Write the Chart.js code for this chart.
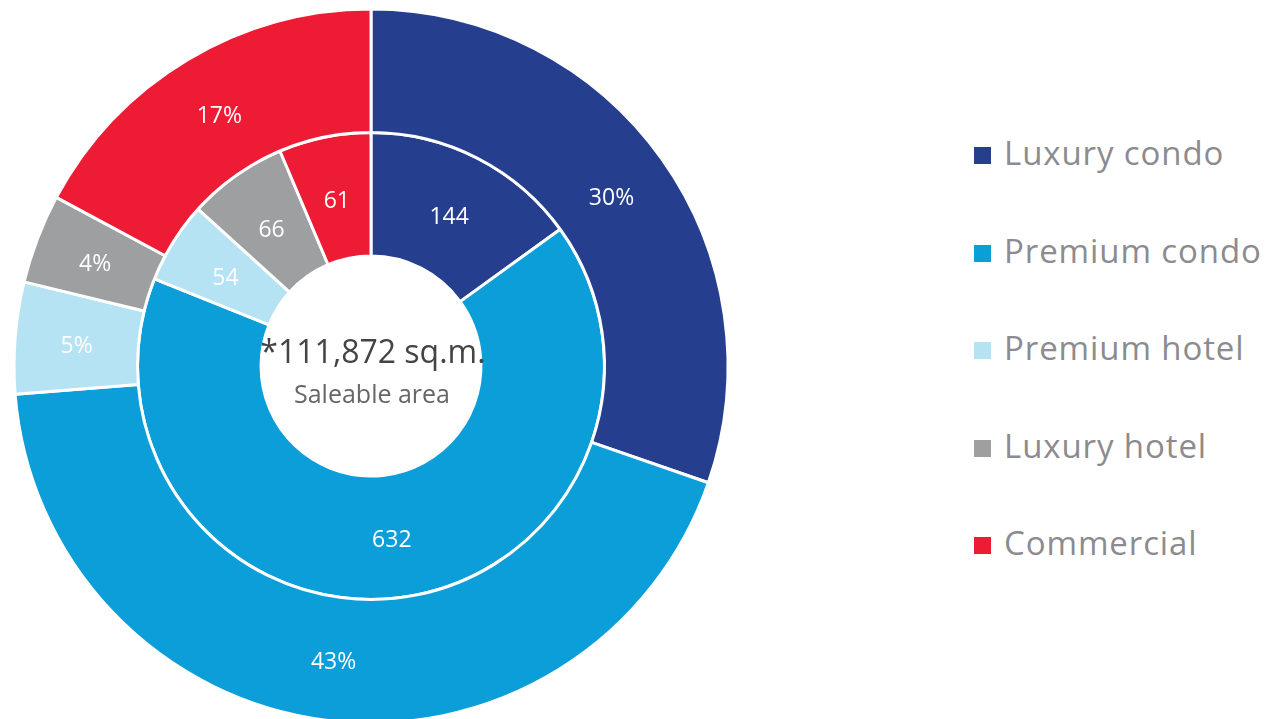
<!DOCTYPE html>
<html>
<head>
<meta charset="utf-8">
<title>Saleable area</title>
<script src="https://cdn.jsdelivr.net/npm/chart.js@4/dist/chart.umd.min.js"></script>
<style>
    html, body {
        margin: 0;
        padding: 0;
        width: 1265px;
        height: 719px;
        overflow: hidden;
        background: #ffffff;
        font-family: "Open Sans", sans-serif;
    }

    .chart {
        position: absolute;
        left: 0;
        top: 0;
        width: 742px;
        height: 732px;
    }

    .legend {
        position: absolute;
        left: 974px;
        top: 137px;
        margin: 0;
        padding: 0;
        list-style: none;
    }

    .legend li {
        height: 32px;
        line-height: 32px;
        margin-bottom: 65.5px;
        font-size: 33px;
        letter-spacing: 0.9px;
        color: #8b8b90;
        white-space: nowrap;
    }

    .legend span {
        display: inline-block;
        width: 17px;
        height: 17px;
        margin-right: 13px;
        vertical-align: 1px;
    }
</style>
</head>
<body>
<div class="chart"><canvas id="chartArea"></canvas></div>
<ul class="legend" id="legend"></ul>

<script>
    /**
     * Categories
     */
    const categories = ['Luxury condo', 'Premium condo', 'Premium hotel', 'Luxury hotel', 'Commercial'];

    /**
     * Colours
     */
    const colors = ['#253f8e', '#0c9ed8', '#b6e3f4', '#9d9fa0', '#ed1b34'];

    /**
     * Share of area (%) - outer ring
     */
    const shares = [30, 43, 5, 4, 17];

    /**
     * Units - inner ring
     */
    const units = [144, 632, 54, 66, 61];

    /**
     * Center text
     */
    const totalText = '*111,872 sq.m.';
    const totalCaption = 'Saleable area';

    /**
     * Legend
     */
    const legend = document.getElementById('legend');
    categories.forEach(function (name, i) {
        const li = document.createElement('li');
        const box = document.createElement('span');
        box.style.background = colors[i];
        li.appendChild(box);
        li.appendChild(document.createTextNode(name));
        legend.appendChild(li);
    });

    /**
     * Slice labels
     */
    const sliceLabels = {
        id: 'sliceLabels',
        afterDatasetsDraw: function (chart) {
            const ctx = chart.ctx;
            ctx.save();
            ctx.font = '23px "Open Sans"';
            ctx.fillStyle = '#ffffff';
            ctx.textAlign = 'center';
            ctx.textBaseline = 'middle';
            chart.data.datasets.forEach(function (dataset, d) {
                chart.getDatasetMeta(d).data.forEach(function (arc, i) {
                    const pos = arc.tooltipPosition(false);
                    ctx.fillText(dataset.data[i] + (dataset.suffix || ''), pos.x, pos.y + 4);
                });
            });
            ctx.restore();
        }
    };

    /**
     * Center text
     */
    const centerText = {
        id: 'centerText',
        afterDraw: function (chart) {
            const ctx = chart.ctx;
            const arc = chart.getDatasetMeta(0).data[0];
            ctx.save();
            ctx.textAlign = 'center';
            ctx.textBaseline = 'alphabetic';
            ctx.fillStyle = '#444444';
            ctx.font = '32px "Open Sans"';
            ctx.fillText(totalText, arc.x + 2, 363);
            ctx.fillStyle = '#666666';
            ctx.font = '25px "Open Sans"';
            ctx.fillText(totalCaption, arc.x + 1, 403);
            ctx.restore();
        }
    };

    /**
     * Chart
     */
    new Chart(document.getElementById('chartArea'), {
        type: 'doughnut',
        data: {
            labels: categories,
            datasets: [
                {
                    label: 'Share',
                    data: shares,
                    suffix: '%',
                    backgroundColor: colors,
                    borderColor: '#ffffff',
                    borderWidth: 3
                },
                {
                    label: 'Units',
                    data: units,
                    backgroundColor: colors,
                    borderColor: '#ffffff',
                    borderWidth: 3
                }
            ]
        },
        options: {
            responsive: true,
            maintainAspectRatio: false,
            animation: false,
            radius: 357,
            cutout: '30.8%',
            layout: { padding: 0 },
            plugins: {
                legend: { display: false },
                tooltip: { enabled: false }
            }
        },
        plugins: [sliceLabels, centerText]
    });
</script>
</body>
</html>
